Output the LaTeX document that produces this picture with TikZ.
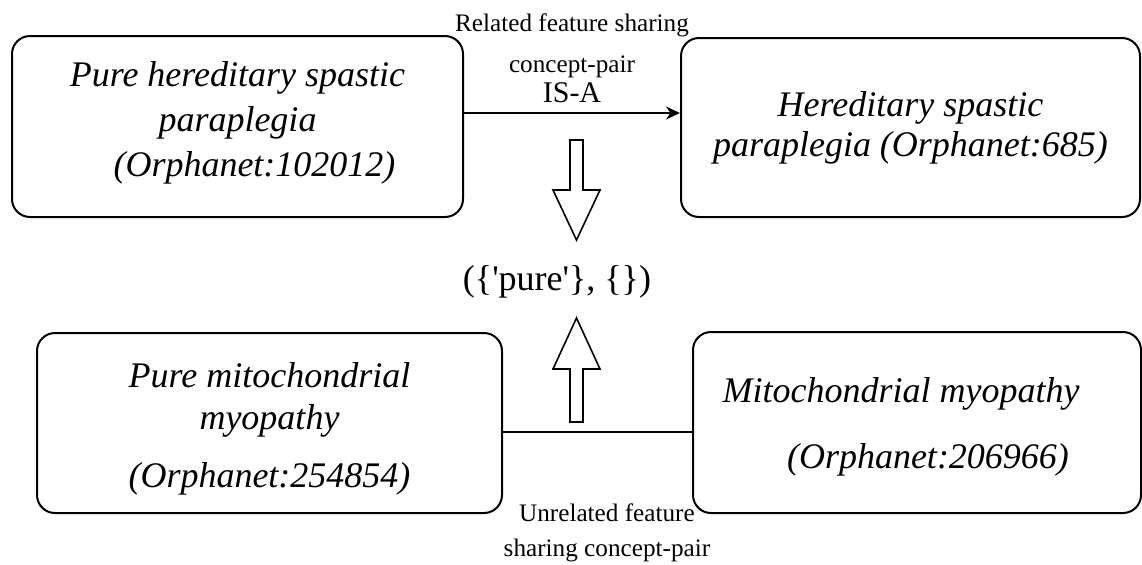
\documentclass[tikz,border=0pt]{standalone}
\usepackage{fontspec}
\setmainfont{Liberation Serif}
\usetikzlibrary{arrows.meta}
\tikzset{term/.style = {draw, line width=1pt, rounded corners=9pt, align=center, inner sep=0pt,
                        font=\fontsize{18}{22.5}\selectfont\itshape}}
\tikzset{isarel/.style = {line width=1pt, -{Stealth[length=7pt,width=6.5pt]}}}
\tikzset{relnote/.style = {inner sep=0pt, align=center, font=\fontsize{12.6}{17.5}\selectfont}}
\tikzset{blockarrow/.style = {draw, line width=0.8pt, fill=white, line join=miter}}

\begin{document}
\begin{tikzpicture}[x=0.5pt, y=-0.5pt]
  \useasboundingbox (0,0) rectangle (1142,564);
  % concept boxes
  \node [term, minimum width=225.5pt, minimum height=90.5pt] (phsp) at (237.5,126.5)
        {Pure hereditary spastic\\ paraplegia\\ \hspace*{17pt}(Orphanet:102012)\rule[-7pt]{0pt}{7pt}};
  \node [term, minimum width=229.5pt, minimum height=89.5pt, font=\fontsize{18}{20}\selectfont\itshape] (hsp) at (910.5,127.5)
        {Hereditary spastic\\ paraplegia (Orphanet:685)};
  \node [term, minimum width=232.5pt, minimum height=90pt, font=\fontsize{18}{21}\selectfont\itshape] (pmm) at (269.5,423)
        {\rule{0pt}{18.4pt}Pure mitochondrial\\ myopathy\\[8pt] (Orphanet:254854)};
  \node [term, minimum width=224pt, minimum height=90.5pt] (mm) at (917,422.5)
        {\rule{0pt}{16.4pt}Mitochondrial myopathy\hspace*{16pt}\\[10.5pt] \hspace*{11pt}(Orphanet:206966)};
  \node [font=\fontsize{18}{22}\selectfont] (pair) at (557,282)
        {(\{\textquotesingle pure\textquotesingle\}, \{\})};
  % concept-pair relations
  \coordinate (isa) at (0,113);
  \coordinate (unrel) at (0,432);
  \draw [isarel] (phsp.east |- isa) -- (hsp.west |- isa)
        node [midway, above=4.5pt, relnote] (isalabel)
        {Related feature sharing\\[3pt] concept-pair\\[-2.5pt] {\fontsize{15}{17}\selectfont IS-A}};
  \draw [line width=1pt] (pmm.east |- unrel) -- (mm.west |- unrel)
        node [pos=0.55, below=35.5pt, relnote] (unrellabel)
        {Unrelated feature\\ sharing concept-pair};
  % block arrows towards the shared features
  \draw [blockarrow] (570,140) -- (583,140) -- (583,190) -- (600,190) -- (576.5,240)
        -- (553,190) -- (570,190) -- cycle;
  \draw [blockarrow] (570,422) -- (583,422) -- (583,369) -- (600,369) -- (576.5,318)
        -- (553,369) -- (570,369) -- cycle;
\end{tikzpicture}
\end{document}
